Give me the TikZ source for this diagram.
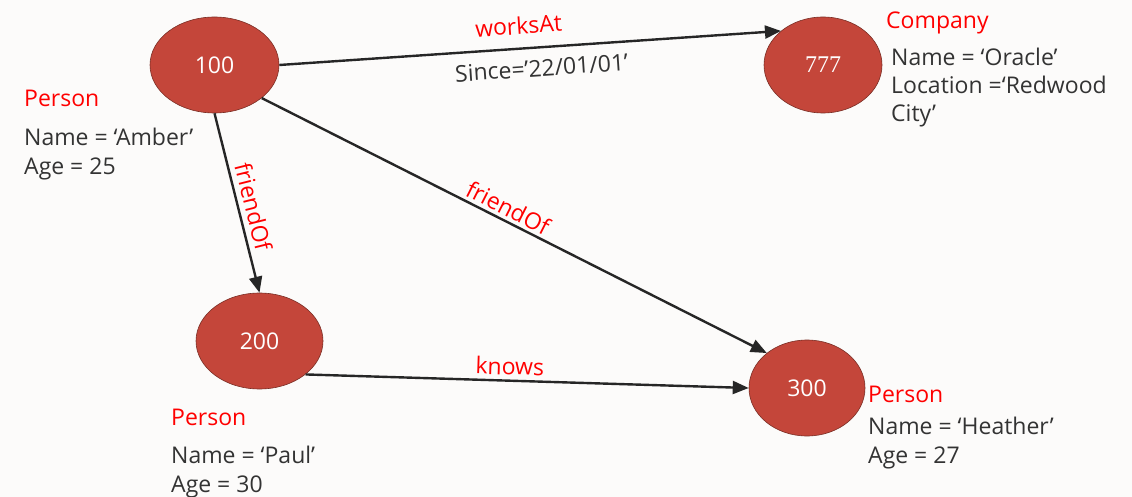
\documentclass[tikz,border=0pt]{standalone}
\usepackage{fontspec}
\setmainfont{Open Sans}
\newfontfamily\numserif{Liberation Serif}
\usetikzlibrary{arrows.meta,shapes.geometric}
\definecolor{vertexfill}{HTML}{C4463A}
\definecolor{vertexline}{HTML}{7A2E25}
\definecolor{inkdark}{HTML}{333333}
\definecolor{edgeink}{HTML}{262626}
\definecolor{labelred}{HTML}{FF0000}
\definecolor{paper}{HTML}{FCFBFA}
\begin{document}
\begin{tikzpicture}[x=1pt,y=-1pt,
  vertex/.style={ellipse, fill=vertexfill, draw=vertexline, line width=0.6pt,
    text=white, font=\fontsize{23}{26}\selectfont, inner sep=0pt,
    minimum height=96pt},
  textline/.style={anchor=west, inner sep=0pt, text height=21.4pt,
    text depth=5pt, font=\fontsize{23}{26}\selectfont},
  typelabel/.style={textline, text=labelred},
  prop/.style={textline, text=inkdark},
  rel/.style={draw=edgeink, line width=2.4pt,
    -{Triangle[length=16pt,width=13pt]}},
  edgelabel/.style={text=labelred, font=\fontsize{23}{26}\selectfont, inner sep=3pt},
  proplabel/.style={text=inkdark, font=\fontsize{23}{26}\selectfont, inner sep=3pt}
]
\useasboundingbox[fill=paper] (0,0) rectangle (1132,497);

% vertices
\node[vertex, minimum width=129pt] (n100) at (214.5,65) {100};
\node[vertex, minimum width=118pt, font=\numserif\fontsize{24}{26}\selectfont] (n777) at (823,65) {777};
\node[vertex, minimum width=127pt] (n200) at (259.5,341) {200};
\node[vertex, minimum width=116pt] (n300) at (807,388) {300};

% vertex labels and properties
\node[typelabel] (t100) at (24,98) {Person};
\node[prop] (p100a) at (24,137) {Name = ‘Amber’};
\node[prop] (p100b) at (24,166) {Age = 25};

\node[typelabel] (t777) at (886,20) {Company};
\node[prop] (p777a) at (891,57) {Name = ‘Oracle’};
\node[prop] (p777b) at (891,85) {Location =‘Redwood};
\node[prop] (p777c) at (891,113) {City’};

\node[typelabel] (t200) at (171,417) {Person};
\node[prop] (p200a) at (171,455) {Name = ‘Paul’};
\node[prop] (p200b) at (171,484) {Age = 30};

\node[typelabel] (t300) at (868,394) {Person};
\node[prop] (p300a) at (868,426) {Name = ‘Heather’};
\node[prop] (p300b) at (868,455) {Age = 27};

% edges
\draw[rel] (n100.east) -- (n777.141)
  node[edgelabel, pos=0.48, sloped, above=10pt] (lw) {worksAt}
  node[proplabel, pos=0.52, sloped, below=8pt] (ls) {Since=’22/01/01’};
\draw[rel] (n100.south) -- (n200.north)
  node[edgelabel, pos=0.54, sloped, above=2pt] (lf1) {friendOf};
\draw[rel] (n100.-35) -- (n300.139)
  node[edgelabel, pos=0.476, sloped, above=0pt] (lf2) {friendOf};
\draw[rel] (n200.-36) -- (n300.west)
  node[edgelabel, pos=0.46, sloped, above=1.5pt] (lk) {knows};
\end{tikzpicture}
\end{document}
